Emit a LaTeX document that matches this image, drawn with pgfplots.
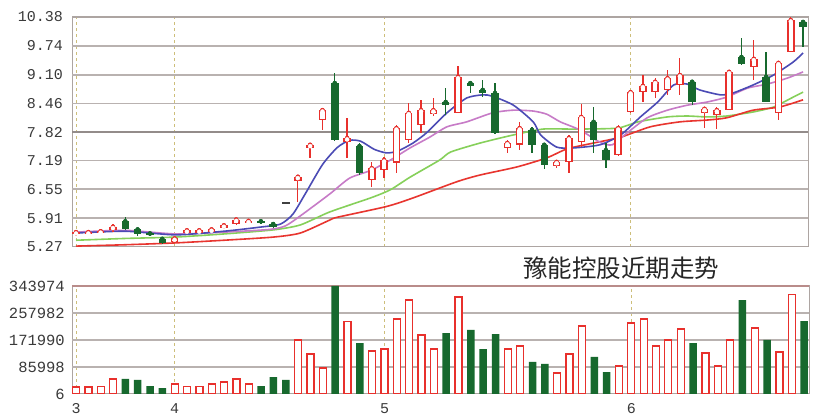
\documentclass[border=0pt]{standalone}
\usepackage{pgfplots}
\pgfplotsset{compat=1.18}
\usepackage{pgfplotstable}
\usepackage{fontspec}
\setmainfont{Liberation Sans}
\setmonofont{Liberation Mono}
\newfontfamily\cjk{Noto Sans CJK SC}

\definecolor{kred}{HTML}{E8302C}
\definecolor{kgreen}{HTML}{17692E}
\definecolor{mablue}{HTML}{4B4BB5}
\definecolor{mapurple}{HTML}{C77BC7}
\definecolor{magreen}{HTML}{86D05A}
\definecolor{mared}{HTML}{E8352F}
\definecolor{framec}{HTML}{ADA5A2}
\definecolor{vgrid}{HTML}{CDBE7A}
\definecolor{labc}{HTML}{3A3A3A}

% candles: index, open, high, low, close
\pgfplotstableread{
i o h l c
1 5.55 5.63 5.52 5.60
2 5.55 5.62 5.53 5.60
3 5.57 5.64 5.55 5.62
4 5.64 5.78 5.60 5.72
9 5.38 5.48 5.36 5.46
10 5.58 5.66 5.56 5.64
11 5.59 5.66 5.57 5.64
12 5.61 5.68 5.60 5.66
13 5.70 5.78 5.68 5.75
14 5.77 5.90 5.75 5.88
15 5.80 5.88 5.78 5.85
19 6.74 6.86 6.27 6.83
20 7.47 7.56 7.25 7.54
21 8.09 8.33 7.87 8.31
23 7.60 8.14 7.25 7.69
25 6.76 7.16 6.60 7.02
26 6.98 7.27 6.80 7.20
27 7.14 7.98 6.91 7.91
28 7.65 8.47 7.58 8.25
29 7.98 8.54 7.80 8.31
30 8.22 8.58 8.18 8.31
32 8.25 9.29 8.25 9.05
36 7.47 7.65 7.36 7.58
37 7.54 8.05 7.42 7.91
40 7.07 7.18 7.02 7.16
41 7.16 7.76 6.91 7.69
42 7.60 8.45 7.49 8.16
45 7.31 7.98 7.29 7.91
46 8.27 8.73 8.25 8.71
47 8.71 9.09 8.49 8.85
48 8.71 9.02 8.58 8.94
49 8.76 9.20 8.65 9.02
50 8.87 9.47 8.65 9.09
52 8.25 8.38 7.91 8.34
53 8.20 8.38 7.89 8.31
54 8.31 9.20 8.31 9.16
56 9.27 9.87 8.98 9.45
58 8.25 9.38 8.09 9.36
59 9.60 10.38 9.60 10.31
}\up

\pgfplotstableread{
i o h l c
5 5.84 5.93 5.64 5.66
6 5.66 5.70 5.52 5.56
7 5.57 5.59 5.52 5.54
8 5.45 5.47 5.33 5.36
16 5.84 5.86 5.78 5.80
17 5.78 5.80 5.70 5.72
22 8.91 9.14 7.62 7.65
24 7.51 7.58 6.88 6.91
31 8.49 8.80 8.20 8.42
33 8.91 8.96 8.69 8.84
34 8.76 8.98 8.60 8.69
35 8.69 8.91 7.78 7.80
38 7.87 7.94 7.36 7.54
39 7.54 7.56 7.00 7.09
43 8.05 8.38 7.36 7.65
44 7.42 7.58 7.02 7.20
51 8.94 8.96 8.42 8.49
55 9.49 9.91 9.31 9.33
57 9.05 9.60 8.49 8.49
60 10.27 10.30 9.72 10.16
}\down

\pgfplotstableread{
i v
1 22000
2 22000
3 25000
4 48000
9 32000
10 25000
11 25000
12 32000
13 38000
14 48000
15 32000
19 172000
20 127000
21 83000
23 232000
25 137000
26 143000
27 239000
28 299000
29 188000
30 143000
32 309000
36 143000
37 153000
40 67000
41 127000
42 217000
45 89000
46 226000
47 239000
48 153000
49 172000
50 207000
52 131000
53 89000
54 172000
56 210000
58 134000
59 318000
}\volup

\pgfplotstableread{
i v
5 48000
6 45000
7 25000
8 19000
16 25000
17 54000
18 45000
22 343974
24 162000
31 194000
33 204000
34 143000
35 191000
38 102000
39 96000
43 118000
44 70000
51 162000
55 299000
57 172000
60 232000
}\voldown

\pgfplotsset{
  panel/.style={
    scale only axis, xmin=0.675, xmax=60.4,
    axis line style={draw=framec, line width=1pt},
    major tick length=0pt, tick style={draw=none},
    xmajorgrids,
    x grid style={draw=vgrid, dash pattern=on 3pt off 3pt, line width=1pt},
    xtick={1,9,26,46},
    yticklabel style={inner sep=0pt, text=labc},
    xticklabel style={inner sep=0pt, text=labc},
  },
  wick/.style={only marks, mark=none, forget plot,
    error bars/.cd, y dir=both, y explicit, error mark=none},
  body/.style={only marks, mark=none, forget plot,
    error bars/.cd, y dir=minus, y explicit, error mark=none},
}

\begin{document}
\begin{tikzpicture}
\useasboundingbox[fill=white] (0pt,0pt) rectangle (813pt,417pt);

\begin{axis}[panel, at={(72pt,170pt)}, anchor=south west,
  width=736pt, height=230pt,
  ymin=5.27, ymax=10.38,
  ytick={5.27,5.91,6.55,7.19,7.82,8.46,9.10,9.74,10.38},
  yticklabels={5.27,5.91,6.55,7.19,7.82,8.46,9.10,9.74,10.38},
  yticklabel style={font=\fontsize{15}{15}\selectfont\ttfamily, xshift=-9pt},
  xticklabels={}]

  % horizontal grid lines, colour and width written at each call
  \addplot[forget plot, mark=none, draw=framec!85!white, line width=1.8pt] coordinates {(0.675,5.91) (60.4,5.91)};
  \addplot[forget plot, mark=none, draw=framec!85!white, line width=1.8pt] coordinates {(0.675,6.55) (60.4,6.55)};
  \addplot[forget plot, mark=none, draw=framec!85!white, line width=1.8pt] coordinates {(0.675,7.19) (60.4,7.19)};
  \addplot[forget plot, mark=none, draw=framec!85!white, line width=1.8pt] coordinates {(0.675,8.46) (60.4,8.46)};
  \addplot[forget plot, mark=none, draw=framec!85!white, line width=1.8pt] coordinates {(0.675,9.10) (60.4,9.10)};
  \addplot[forget plot, mark=none, draw=framec!85!white, line width=1.8pt] coordinates {(0.675,9.74) (60.4,9.74)};
  \addplot[forget plot, mark=none, draw=framec!85!black, line width=2.4pt] coordinates {(0.675,7.82) (60.4,7.82)};
  \addplot[forget plot, mark=none, draw=framec, line width=2pt] coordinates {(0.675,10.38) (60.4,10.38)};

  % moving averages
  \addplot[magreen, line width=1.6pt, smooth, tension=0.4] coordinates {
    (1,5.42)(5,5.46)(9,5.49)(13,5.56)(17,5.65)(19.2,5.76)(21.6,6.05)(24.9,6.36)
    (26.5,6.54)(28.1,6.82)(30.5,7.2)(31.4,7.38)(33.8,7.58)(36.5,7.76)(38.9,7.89)
    (41.3,7.89)(44.9,7.91)(46.6,8.05)(49,8.16)(50.6,8.18)(52.2,8.16)(53.8,8.18)
    (55.95,8.27)(57.6,8.38)(59.2,8.60)(60,8.71)};
  \addplot[mared, line width=1.6pt, smooth, tension=0.4] coordinates {
    (1,5.29)(5,5.32)(9,5.36)(13,5.42)(17,5.49)(19.2,5.58)(21.6,5.87)(22.2,5.93)
    (26.2,6.17)(28.35,6.36)(31.9,6.72)(33.8,6.87)(36.8,7.05)(39.2,7.25)(40.85,7.45)
    (43,7.58)(45.2,7.71)(47.6,7.94)(50,8.05)(52.2,8.09)(53.8,8.14)(55.95,8.31)
    (58.1,8.38)(60,8.54)};
  \addplot[mapurple, line width=1.6pt, smooth, tension=0.4] coordinates {
    (1,5.60)(5,5.64)(9.1,5.56)(13,5.60)(16.7,5.66)(18,5.74)(19.3,5.98)(21.6,6.45)
    (23.2,6.80)(24.9,6.97)(26.5,7.20)(28.1,7.47)(29.7,7.71)(31.1,7.94)(32.7,8.05)
    (34.8,8.25)(36.5,8.31)(38.1,8.29)(39.2,8.22)(40.3,8.05)(41.9,7.87)(43.5,7.60)
    (44.5,7.54)(45.7,7.80)(47.35,8.14)(49,8.31)(50.6,8.42)(52.2,8.49)(53.8,8.60)
    (55.5,8.80)(57.1,8.89)(58.7,9.02)(60,9.16)};
  \addplot[mablue, line width=1.6pt, smooth, tension=0.4] coordinates {
    (1,5.58)(5,5.62)(9.1,5.54)(13,5.62)(15.9,5.71)(17.6,5.78)(18.6,6.0)(19.6,6.45)
    (21,7.1)(22.2,7.48)(23.2,7.64)(24.1,7.62)(25.2,7.44)(26.2,7.36)(27.1,7.40)
    (28.35,7.58)(29.5,7.82)(31.1,8.25)(32.7,8.58)(34,8.65)(34.8,8.62)(36.5,8.42)
    (38.1,8.05)(38.7,7.76)(40,7.49)(41.3,7.47)(43.5,7.54)(45.2,7.76)(46.8,8.16)
    (48.2,8.49)(49.5,8.87)(50.6,8.89)(51.6,8.76)(53.3,8.65)(54.3,8.69)(55.95,8.87)
    (57.6,9.09)(59.2,9.38)(60,9.58)};

  % rising candles: hollow red
  \addplot[kred, wick, error bar style={line width=1.3pt, kred}]
    table[x=i, y=c, y error plus expr={\thisrow{h}-\thisrow{c}},
          y error minus expr={\thisrow{c}-\thisrow{l}}] {\up};
  \addplot[kred, body, error bar style={line width=7.5pt, kred}]
    table[x=i, y=c, y error minus expr={\thisrow{c}-\thisrow{o}}] {\up};
  \addplot[white, body, error bar style={line width=4.5pt, white}]
    table[x=i, y expr={\thisrow{c}-0.03},
          y error minus expr={max(\thisrow{c}-\thisrow{o}-0.06,0)}] {\up};

  % falling candles: filled green
  \addplot[kgreen, wick, error bar style={line width=1.3pt, kgreen}]
    table[x=i, y=o, y error plus expr={\thisrow{h}-\thisrow{o}},
          y error minus expr={\thisrow{o}-\thisrow{l}}] {\down};
  \addplot[kgreen, body, error bar style={line width=7.5pt, kgreen}]
    table[x=i, y=o, y error minus expr={\thisrow{o}-\thisrow{c}}] {\down};

  % one-price day
  \addplot[only marks, mark=-, mark size=4pt, mark options={line width=1.6pt, draw=black!75}]
    coordinates {(18,6.25)};
\end{axis}

\begin{axis}[panel, at={(72pt,23pt)}, anchor=south west,
  width=737pt, height=108pt,
  ymin=6, ymax=343974, scaled y ticks=false,
  ytick={6,85998,171990,257982,343974},
  yticklabels={6,85998,171990,257982,343974},
  yticklabel style={font=\fontsize{15.5}{15.5}\selectfont\ttfamily, xshift=-7pt},
  xticklabels={3,4,5,6},
  xticklabel style={font=\fontsize{15}{15}\selectfont\ttfamily, yshift=-9pt}]

  \addplot[forget plot, mark=none, draw=framec!85!white, line width=1.8pt] coordinates {(0.675,85998) (60.4,85998)};
  \addplot[forget plot, mark=none, draw=framec!85!white, line width=1.8pt] coordinates {(0.675,171990) (60.4,171990)};
  \addplot[forget plot, mark=none, draw=framec!85!white, line width=1.8pt] coordinates {(0.675,257982) (60.4,257982)};
  \addplot[forget plot, mark=none, draw=framec!85!red, line width=1.8pt] coordinates {(0.675,343974) (60.4,343974)};
  \addplot[ybar, bar width=7pt, bar shift=0pt, draw=kred, fill=white, line width=1.3pt]
    table[x=i, y=v] {\volup};
  \addplot[ybar, bar width=7.5pt, bar shift=0pt, draw=none, fill=kgreen]
    table[x=i, y=v] {\voldown};
\end{axis}

\node[font=\cjk\fontsize{24.5}{24.5}\selectfont, text=black!85] at (621pt,149pt) {豫能控股近期走势};
\end{tikzpicture}
\end{document}
